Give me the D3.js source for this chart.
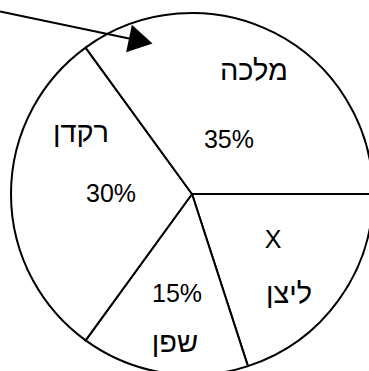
<!DOCTYPE html>
<html>
<head>
<meta charset="utf-8">
<script src="https://cdn.jsdelivr.net/npm/d3@7"></script>
<style>
  html, body { margin: 0; padding: 0; background: #fff; }
  text { font-family: "Liberation Sans", Arial, sans-serif; font-size: 25px; fill: #000; }
  text.name { font-size: 29px; }
</style>
</head>
<body>
<div id="chart"></div>
<script>
// slices, clockwise from 3 o'clock
const names = ["ליצן", "שפן", "רקדן", "מלכה"]
const values = [20, 15, 30, 35]
const pctLabels = ["X", "15%", "30%", "35%"]

const width = 369, height = 371
const cx = 192, cy = 194, radius = 181

// where the two text lines of each slice sit (offset from the centre, baseline)
const nameOffsets = [[97, 109], [-17, 158], [-111, -52], [62, -114]]
const pctOffsets = [[81, 54], [-15, 108], [-81, 8], [37, -46]]

const svg = d3.select("#chart").append("svg")
  .attr("width", width)
  .attr("height", height)

const g = svg.append("g")
  .attr("transform", `translate(${cx},${cy})`)

const pie = d3.pie()
  .sort(null)
  .startAngle(Math.PI / 2)
  .endAngle(Math.PI / 2 + 2 * Math.PI)

const arc = d3.arc().innerRadius(0).outerRadius(radius)

g.selectAll("path.slice")
  .data(pie(values))
  .join("path")
  .attr("class", "slice")
  .attr("d", arc)
  .attr("fill", "#fff")
  .attr("stroke", "#000")
  .attr("stroke-width", 2)
  .attr("stroke-linejoin", "round")

g.selectAll("text.name")
  .data(names)
  .join("text")
  .attr("class", "name")
  .attr("text-anchor", "middle")
  .attr("x", (d, i) => nameOffsets[i][0])
  .attr("y", (d, i) => nameOffsets[i][1])
  .text(d => d)

g.selectAll("text.pct")
  .data(pctLabels)
  .join("text")
  .attr("class", "pct")
  .attr("text-anchor", "middle")
  .attr("x", (d, i) => pctOffsets[i][0])
  .attr("y", (d, i) => pctOffsets[i][1])
  .text(d => d)

// pointer arrow coming in from the top-left corner
const arrowFrom = [0, 11.5]
const arrowTip = [152.5, 43.5]
const headLen = 24, headHalf = 14
const dx = arrowTip[0] - arrowFrom[0], dy = arrowTip[1] - arrowFrom[1]
const len = Math.hypot(dx, dy)
const ux = dx / len, uy = dy / len
const bx = arrowTip[0] - ux * headLen, by = arrowTip[1] - uy * headLen

svg.append("line")
  .attr("x1", arrowFrom[0]).attr("y1", arrowFrom[1])
  .attr("x2", bx).attr("y2", by)
  .attr("stroke", "#000")
  .attr("stroke-width", 2)

svg.append("path")
  .attr("d", d3.line()([
    arrowTip,
    [bx - uy * headHalf, by + ux * headHalf],
    [bx + uy * headHalf, by - ux * headHalf]
  ]) + "Z")
  .attr("fill", "#000")
</script>
</body>
</html>
